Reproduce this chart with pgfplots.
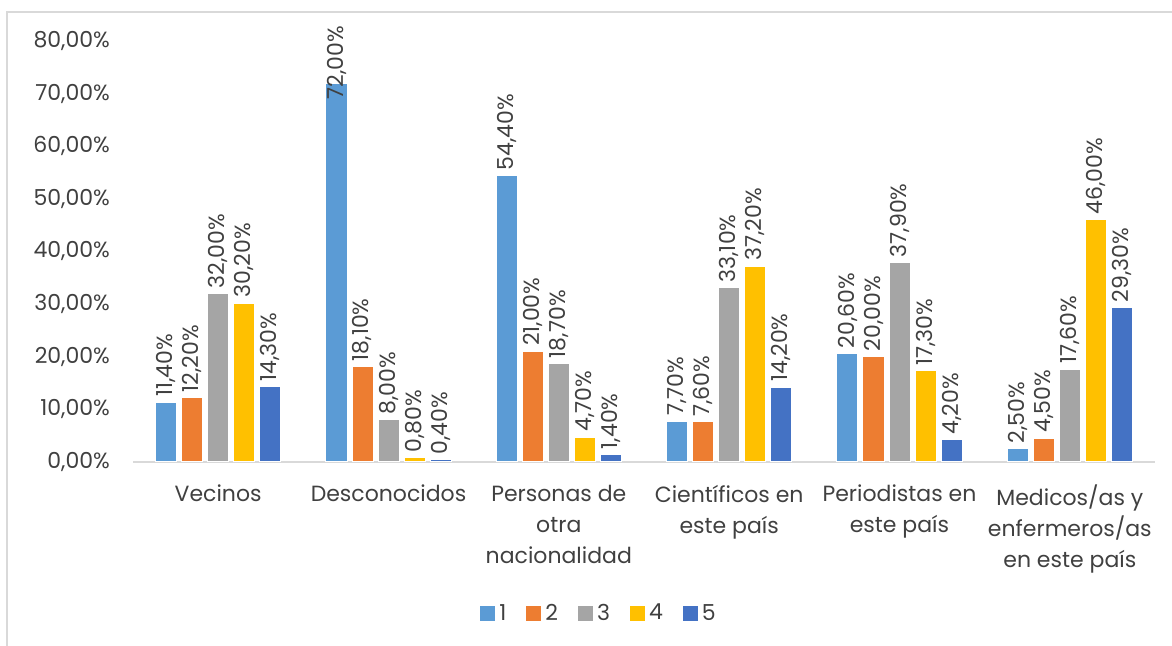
\documentclass[border=0pt]{standalone}
\usepackage{pgfplots}
\pgfplotsset{compat=1.18}
\usepackage{fontspec}
\setmainfont{Poppins}
\definecolor{c1}{HTML}{5B9BD5}
\definecolor{c2}{HTML}{ED7D31}
\definecolor{c3}{HTML}{A5A5A5}
\definecolor{c4}{HTML}{FFC000}
\definecolor{c5}{HTML}{4472C4}
\definecolor{txt}{HTML}{404040}
\definecolor{frame}{HTML}{D9D9D9}

\begin{document}
\begin{tikzpicture}
% chart frame (left and top edges visible); 1 px = 0.5pt
\draw[frame, line width=1pt] (3.5pt,0pt) -- (3.5pt,317pt) -- (586pt,317pt);
\begin{axis}[
  at={(66.5pt,92pt)}, anchor=south west,
  width=511pt, height=210.5pt, scale only axis,
  ybar=2.5pt, bar width=10.5pt,
  xmin=-0.5, xmax=5.5, ymin=0, ymax=80,
  ytick={0,10,...,80},
  xtick={0,...,5},
  xticklabels={Vecinos, Desconocidos, {Personas de\\otra\\nacionalidad}, {Científicos en\\este país}, {Periodistas en\\este país}, {Medicos/as y\\enfermeros/as\\en este país}},
  axis lines*=left,
  y axis line style={draw=none},
  x axis line style={draw=frame, line width=1pt},
  major tick length=0pt,
  /pgf/number format/assume math mode=true,
  yticklabel={\pgfmathprintnumber[fixed,fixed zerofill,precision=2,use comma]{\tick}\%},
  yticklabel style={font=\fontsize{11}{13}\selectfont, text=txt, xshift=-8pt},
  xticklabel style={font=\fontsize{11}{15.5}\selectfont, text=txt, align=center, anchor=north, yshift=-8pt},
  nodes near coords={\pgfmathprintnumber[fixed,fixed zerofill,precision=2,use comma]{\pgfplotspointmeta}\%},
  every node near coord/.append style={font=\fontsize{11}{13}\selectfont, text=txt, rotate=90, anchor=west, inner sep=2.5pt},
  coordinate style/.condition={y>70}{yshift=-11pt},
  every axis plot/.append style={draw=white, line width=0.5pt},
  legend columns=5,
  legend style={draw=none, at={(0.457,-0.36)}, anchor=center, font=\fontsize{11}{13}\selectfont, text=txt,
    /tikz/every even column/.append style={column sep=8pt}},
  legend image code/.code={\fill[#1, draw=none] (0pt,-3.75pt) rectangle (7.5pt,3.75pt);},
]
\addplot[fill=c1] coordinates {(0,11.4) (1,72.0) (2,54.4) (3,7.7) (4,20.6) (5,2.5)};
\addlegendentry{1}
\addplot[fill=c2] coordinates {(0,12.2) (1,18.1) (2,21.0) (3,7.6) (4,20.0) (5,4.5)};
\addlegendentry{2}
\addplot[fill=c3] coordinates {(0,32.0) (1,8.0) (2,18.7) (3,33.1) (4,37.9) (5,17.6)};
\addlegendentry{3}
\addplot[fill=c4] coordinates {(0,30.2) (1,0.8) (2,4.7) (3,37.2) (4,17.3) (5,46.0)};
\addlegendentry{4}
\addplot[fill=c5] coordinates {(0,14.3) (1,0.4) (2,1.4) (3,14.2) (4,4.2) (5,29.3)};
\addlegendentry{5}
\end{axis}
\pgfresetboundingbox
\path[use as bounding box] (0pt,0pt) rectangle (586pt,323pt);
\end{tikzpicture}
\end{document}
